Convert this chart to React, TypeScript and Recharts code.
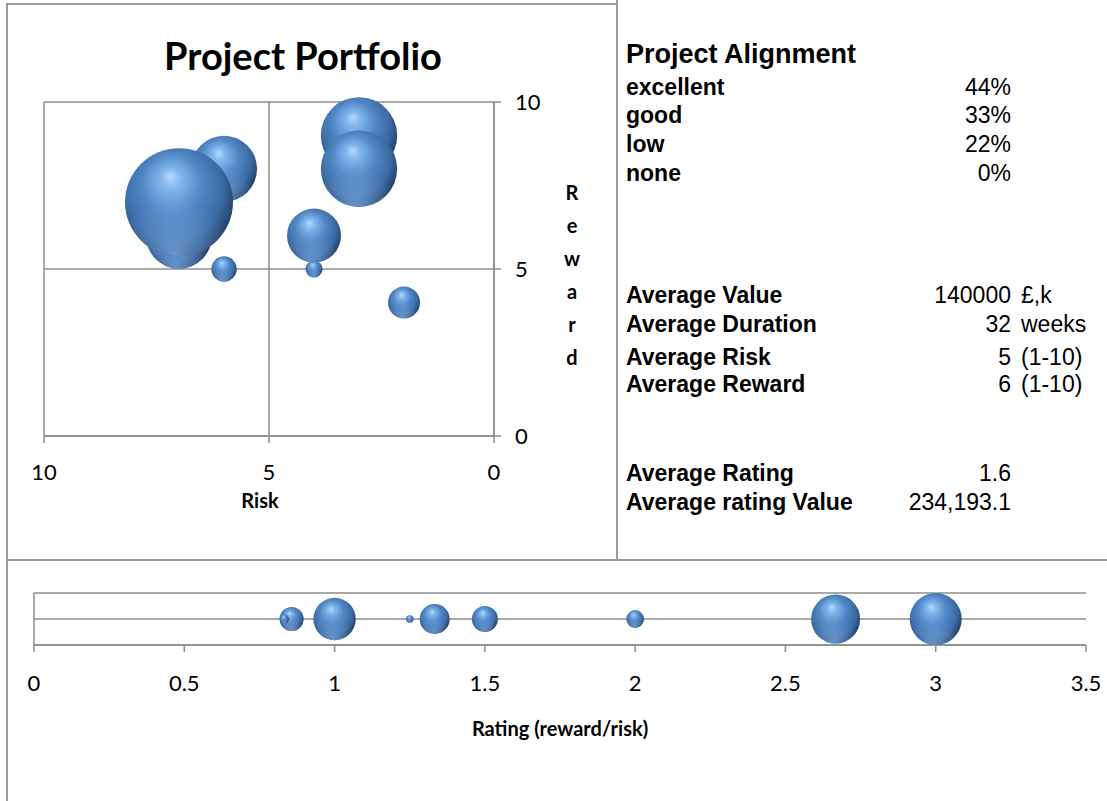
import React from "react";
import {
  ScatterChart,
  Scatter,
  XAxis,
  YAxis,
  ZAxis,
  CartesianGrid,
} from "recharts";

// projects, in drawing order (later ones sit on top)
const riskScores = [3, 6, 7, 7, 3, 4, 6, 4, 2];
const rewardScores = [9, 8, 6, 7, 8, 6, 5, 5, 4];
const projectValues = [200000, 150000, 150000, 400000, 200000, 100000, 22000, 10000, 35000];

// bottom strip: rating (reward/risk) and rating value
const ratings = [3.0, 1.333, 0.857, 1.0, 2.667, 1.5, 0.833, 1.25, 2.0];
const ratingValues = [600000, 200000, 128571, 400000, 533333, 150000, 18333, 12500, 70000];

const riskTicks = [0, 5, 10];
const rewardTicks = [0, 5, 10];
const ratingTicks = [0, 0.5, 1, 1.5, 2, 2.5, 3, 3.5];
const levelTicks = [0, 1, 2];

const alignmentLabels = ["excellent", "good", "low", "none"];
const alignmentShares = ["44%", "33%", "22%", "0%"];

const statLabels = ["Average Value", "Average Duration", "Average Risk", "Average Reward"];
const statValues = ["140000", "32", "5", "6"];
const statUnits = ["£,k", "weeks", "(1-10)", "(1-10)"];

const ratingLabels = ["Average Rating", "Average rating Value"];
const ratingStats = ["1.6", "234,193.1"];

const topData = riskScores.map((risk, i) => ({
  risk,
  reward: rewardScores[i],
  value: projectValues[i],
}));

const stripData = ratings.map((rating, i) => ({
  rating,
  level: 1,
  ratingValue: ratingValues[i],
}));

const GRID = "#8c8c8c";
const BORDER = "#9c9c9c";
const CAL = "Lato, 'Open Sans', sans-serif";
const ARIAL = "'Liberation Sans', Arial, sans-serif";

const Sphere = (props: any) => {
  const { cx, cy, width } = props;
  if (cx == null || cy == null) return null;
  const r = width / 2;
  return (
    <g>
      <circle cx={cx} cy={cy} r={r} fill="url(#sphereBody)" />
      <circle cx={cx} cy={cy} r={r} fill="url(#sphereRim)" />
    </g>
  );
};

// the strip's y axis only carries grid positions, no labels
const NoTick = () => <g />;

const tickStyle = { fontSize: 22, fill: "#000", fontFamily: CAL };

function TextRow({ y, label, value, unit, size = 23 }: { y: number; label: string; value: string; unit?: string; size?: number }) {
  const lh = 28;
  return (
    <>
      <div style={{ position: "absolute", left: 626, top: y - lh / 2, lineHeight: `${lh}px`, fontSize: size, fontWeight: 700, fontFamily: ARIAL, whiteSpace: "nowrap" }}>
        {label}
      </div>
      <div style={{ position: "absolute", left: 811, width: 200, textAlign: "right", top: y - lh / 2, lineHeight: `${lh}px`, fontSize: size, fontFamily: ARIAL }}>
        {value}
      </div>
      {unit && (
        <div style={{ position: "absolute", left: 1021, top: y - lh / 2, lineHeight: `${lh}px`, fontSize: size, fontFamily: ARIAL, whiteSpace: "nowrap" }}>
          {unit}
        </div>
      )}
    </>
  );
}

export default function App() {
  const alignY = [87, 115, 144, 173];
  const statY = [295, 324, 357, 384];
  const rateY = [473, 502];
  const rewardLetters = "Reward".split("");

  return (
    <div style={{ position: "relative", width: 1107, height: 801, overflow: "hidden", background: "#fff" }}>
      <style>{`body{margin:0}`}</style>
      <svg width={0} height={0} style={{ position: "absolute" }}>
        <defs>
          <radialGradient id="sphereBody" cx="0.45" cy="0.42" r="0.62" fx="0.42" fy="0.26">
            <stop offset="0%" stopColor="#b4dcff" />
            <stop offset="14%" stopColor="#86b8ee" />
            <stop offset="45%" stopColor="#5187c6" />
            <stop offset="75%" stopColor="#3b6aa3" />
            <stop offset="100%" stopColor="#1b3558" />
          </radialGradient>
          <radialGradient id="sphereRim" cx="0.45" cy="1.0" r="0.55">
            <stop offset="0%" stopColor="#7eaee6" stopOpacity={0.75} />
            <stop offset="100%" stopColor="#7eaee6" stopOpacity={0} />
          </radialGradient>
        </defs>
      </svg>

      {/* frames */}
      <div style={{ position: "absolute", left: 6, top: 3, width: 2, height: 798, background: BORDER }} />
      <div style={{ position: "absolute", left: 6, top: 3, width: 612, height: 2, background: BORDER }} />
      <div style={{ position: "absolute", left: 616, top: 0, width: 2, height: 560, background: BORDER }} />
      <div style={{ position: "absolute", left: 6, top: 559, width: 1101, height: 2, background: BORDER }} />

      {/* top bubble chart */}
      <div style={{ position: "absolute", left: 0, top: 0 }}>
        <ScatterChart width={620} height={560} margin={{ top: 102, right: 66, bottom: 84, left: 44 }}>
          <CartesianGrid stroke={GRID} strokeWidth={1.5} />
          <XAxis
            type="number"
            dataKey="risk"
            domain={[0, 10]}
            ticks={riskTicks}
            reversed
            height={40}
            tick={tickStyle}
            tickSize={7}
            tickMargin={21}
            stroke={GRID}
            strokeWidth={1.5}
          />
          <YAxis
            type="number"
            dataKey="reward"
            orientation="right"
            domain={[0, 10]}
            ticks={rewardTicks}
            width={60}
            tick={tickStyle}
            tickSize={7}
            tickMargin={14}
            stroke={GRID}
            strokeWidth={1.5}
          />
          <ZAxis type="number" dataKey="value" domain={[0, 400000]} range={[0, Math.PI * 54 * 54]} />
          <Scatter data={topData} shape={<Sphere />} isAnimationActive={false} />
        </ScatterChart>
      </div>

      <div style={{ position: "absolute", left: 103, width: 400, top: 30, lineHeight: "50px", textAlign: "center", fontFamily: CAL, fontWeight: 700, fontSize: 38 }}>
        Project Portfolio
      </div>
      <div style={{ position: "absolute", left: 200, width: 120, top: 488, lineHeight: "24px", textAlign: "center", fontFamily: CAL, fontWeight: 700, fontSize: 20 }}>
        Risk
      </div>
      {rewardLetters.map((ch, i) => (
        <div key={i} style={{ position: "absolute", left: 552, width: 40, top: 180 + i * 33, lineHeight: "24px", textAlign: "center", fontFamily: CAL, fontWeight: 700, fontSize: 20 }}>
          {ch}
        </div>
      ))}

      {/* right-hand summary */}
      <div style={{ position: "absolute", left: 626, top: 38, lineHeight: "32px", fontSize: 27, fontWeight: 700, fontFamily: ARIAL }}>
        Project Alignment
      </div>
      {alignmentLabels.map((l, i) => (
        <TextRow key={l} y={alignY[i]} label={l} value={alignmentShares[i]} />
      ))}
      {statLabels.map((l, i) => (
        <TextRow key={l} y={statY[i]} label={l} value={statValues[i]} unit={statUnits[i]} />
      ))}
      {ratingLabels.map((l, i) => (
        <TextRow key={l} y={rateY[i]} label={l} value={ratingStats[i]} />
      ))}

      {/* bottom rating strip */}
      <div style={{ position: "absolute", left: 0, top: 560 }}>
        <ScatterChart width={1107} height={241} margin={{ top: 33, right: 21, bottom: 96, left: 24 }}>
          <CartesianGrid stroke={GRID} strokeWidth={1.5} vertical={false} />
          <XAxis
            type="number"
            dataKey="rating"
            domain={[0, 3.5]}
            ticks={ratingTicks}
            height={60}
            tick={tickStyle}
            tickSize={7}
            tickMargin={23}
            stroke={GRID}
            strokeWidth={1.5}
          />
          <YAxis
            type="number"
            dataKey="level"
            domain={[0, 2]}
            ticks={levelTicks}
            width={10}
            tick={NoTick}
            tickLine={false}
            stroke={GRID}
            strokeWidth={1.5}
          />
          <ZAxis type="number" dataKey="ratingValue" domain={[0, 600000]} range={[0, Math.PI * 26 * 26]} />
          <Scatter data={stripData} shape={<Sphere />} isAnimationActive={false} />
        </ScatterChart>
      </div>
      <div style={{ position: "absolute", left: 400, width: 320, top: 716, lineHeight: "24px", textAlign: "center", fontFamily: CAL, fontWeight: 700, fontSize: 20 }}>
        Rating (reward/risk)
      </div>
    </div>
  );
}
